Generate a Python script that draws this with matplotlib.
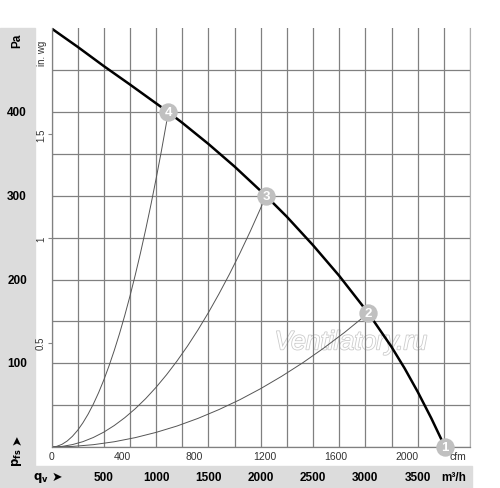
import matplotlib.pyplot as plt
import matplotlib.transforms as mtransforms
import matplotlib.patheffects as pe
from matplotlib.patches import Rectangle

plt.rcParams['font.family'] = ['Liberation Sans', 'DejaVu Sans']

# fan curve, m3/h vs Pa
q_fan = [0, 250, 500, 750, 1000, 1117, 1250, 1500, 1750, 2050, 2250, 2500, 2750,
         3028, 3250, 3375, 3500, 3630, 3761]
p_fan = [500, 478, 455, 433, 410.5, 400, 387.3, 362, 335, 300, 275, 241, 204.5,
         160, 119.6, 94, 66, 34.4, 0]

# system curves through the operating points
q_sys4 = [0, 50, 100, 150, 200, 250, 300, 350, 400, 450, 500, 550, 600, 650, 700,
          750, 800, 850, 900, 950, 1000, 1050, 1117]
p_sys4 = [0, 0.8, 3.2, 7.2, 12.8, 20, 28.9, 39.3, 51.3, 64.9, 80.1, 97, 115.4,
          135.4, 157.1, 180.3, 205.2, 231.6, 259.7, 289.3, 320.6, 353.4, 400]
q_sys3 = [0, 100, 200, 300, 400, 500, 600, 700, 800, 900, 1000, 1100, 1200, 1300,
          1400, 1500, 1600, 1700, 1800, 1900, 2000, 2050]
p_sys3 = [0, 0.7, 2.9, 6.4, 11.4, 17.8, 25.7, 35, 45.7, 57.8, 71.4, 86.4, 102.8,
          120.6, 139.9, 160.6, 182.8, 206.3, 231.3, 257.7, 285.6, 300]
q_sys2 = [0, 200, 400, 600, 800, 1000, 1200, 1400, 1600, 1800, 2000, 2200, 2400,
          2600, 2800, 3028]
p_sys2 = [0, 0.7, 2.8, 6.3, 11.2, 17.5, 25.1, 34.2, 44.7, 56.5, 69.8, 84.5, 100.5,
          118, 136.8, 160]

# operating points
op_q = [3761, 3028, 2050, 1117]
op_p = [0, 160, 300, 400]
op_labels = ['1', '2', '3', '4']

m3h_ticks = [500, 1000, 1500, 2000, 2500, 3000, 3500]
cfm_ticks = [0, 400, 800, 1200, 1600, 2000]
pa_ticks = [100, 200, 300, 400]
inwg_ticks = [0.5, 1, 1.5]
inwg_labels = ['0.5', '1', '1.5']

CFM = 1.69901    # m3/h per cfm
INWG = 249.089   # Pa per in. wg

fig = plt.figure(figsize=(5, 4.89), dpi=100)
fig.patches.append(Rectangle((0, 0.045), 0.07, 0.895, transform=fig.transFigure,
                             color='#dcdcdc', zorder=-1))
fig.patches.append(Rectangle((0, 0), 0.944, 0.045, transform=fig.transFigure,
                             color='#dcdcdc', zorder=-1))

ax = fig.add_axes([0.103, 0.0838, 0.837, 0.856])
ax.set_xlim(0, 4000)
ax.set_ylim(0, 500)
ax.set_xticks(range(0, 4001, 250))
ax.set_yticks(range(0, 451, 50))
ax.tick_params(length=0, labelbottom=False, labelleft=False)
ax.grid(color='#808080', lw=0.9)
ax.spines['top'].set_visible(False)
for s in ['left', 'bottom']:
    ax.spines[s].set_color('#808080')
    ax.spines[s].set_linewidth(0.9)
ax.spines['right'].set_color('#b0b0b0')

ax.plot(q_sys4, p_sys4, color='#555555', lw=0.7)
ax.plot(q_sys3, p_sys3, color='#555555', lw=0.7)
ax.plot(q_sys2, p_sys2, color='#555555', lw=0.7)
ax.plot(q_fan, p_fan, color='black', lw=1.8)

ax.scatter(op_q, op_p, s=175, color='#c0c0c0', zorder=5, clip_on=False, linewidths=0)
for q, p, l in zip(op_q, op_p, op_labels):
    ax.text(q, p, l, color='white', weight='bold', ha='center', va='center',
            fontsize=9.5, zorder=6, clip_on=False)

ax.text(2860, 125, 'Ventilatory.ru', style='italic', fontsize=19, color='white',
        ha='center', va='center', zorder=1.5,
        path_effects=[pe.withStroke(linewidth=1.2, foreground='#cccccc')])

# in. wg scale
sec = ax.secondary_yaxis('left', functions=(lambda p: p / INWG, lambda w: w * INWG))
sec.set_yticks(inwg_ticks)
sec.set_yticklabels(inwg_labels, rotation=90, va='center', fontsize=7, color='#333333')
sec.tick_params(length=3, width=0.8, color='#888888', pad=1)
sec.spines['left'].set_visible(False)

tx = mtransforms.blended_transform_factory(ax.transData, fig.transFigure)
ty = mtransforms.blended_transform_factory(fig.transFigure, ax.transData)

ax.text(0.084, 487, 'in. wg', transform=ty, rotation=90, ha='center', va='top',
        fontsize=7, color='#333333')

for c in cfm_ticks:
    ax.text(c * CFM, 0.0654, str(c), transform=tx, ha='center', va='center',
            fontsize=7.5, color='#333333')
fig.text(0.916, 0.0645, 'cfm', ha='center', va='center', fontsize=7.5, color='#333333')

for m in m3h_ticks:
    ax.text(m, 0.0235, str(m), transform=tx, ha='center', va='center',
            fontsize=8.5, weight='bold')
fig.text(0.908, 0.0235, 'm³/h', ha='center', va='center', fontsize=8.5, weight='bold')

for p in pa_ticks:
    ax.text(0.034, p, str(p), transform=ty, ha='center', va='center',
            fontsize=8.5, weight='bold')
fig.text(0.034, 0.917, 'Pa', rotation=90, ha='center', va='center',
         fontsize=8.5, weight='bold')

# axis symbols with arrowheads
fig.text(0.034, 0.064, r'$\mathbf{p_{fs}}$', rotation=90, ha='center', va='center',
         fontsize=8.5)
fig.text(0.034, 0.101, '➤', rotation=90, ha='center', va='center',
         fontsize=9, family='DejaVu Sans')
fig.text(0.066, 0.0235, r'$\mathbf{q_v}$', ha='left', va='center', fontsize=8.5)
fig.text(0.113, 0.0235, '➤', ha='center', va='center', fontsize=9, family='DejaVu Sans')

plt.savefig('out.png', dpi=100)
